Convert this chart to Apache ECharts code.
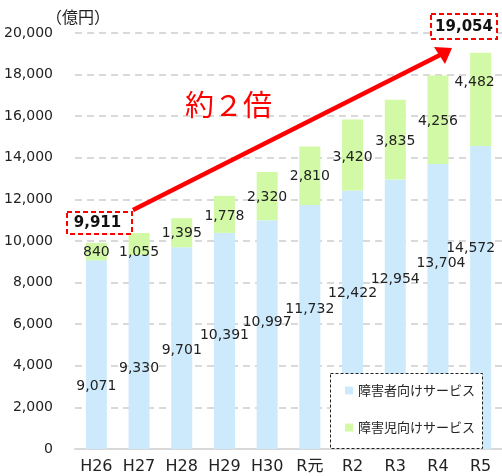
<!DOCTYPE html>
<html>
<head>
<meta charset="utf-8">
<script src="https://cdn.jsdelivr.net/npm/echarts@6/dist/echarts.min.js"></script>
<style>
  html, body { margin: 0; padding: 0; background: #fff; }
  #main { width: 502px; height: 476px; }
</style>
</head>
<body>
<div id="main"></div>
<script>
// 年度
var categories = ['H26', 'H27', 'H28', 'H29', 'H30', 'R元', 'R2', 'R3', 'R4', 'R5'];
// 障害者向けサービス（億円）
var adultValues = [9071, 9330, 9701, 10391, 10997, 11732, 12422, 12954, 13704, 14572];
// 障害児向けサービス（億円）
var childValues = [840, 1055, 1395, 1778, 2320, 2810, 3420, 3835, 4256, 4482];
var seriesNames = ['障害者向けサービス', '障害児向けサービス'];

// ラベル位置の微調整（スタイル）
var adultLabelOffsets = [[0, -51], [0, -69], [0, -87], [0, -102], [0, -115], [0, -128], [0, -144], [0, -158], [3, -174], [-10, -189]];
var childLabelOffsets = [[0, 1], [0, 8], [0, 1], [0, 2], [0, 1], [0, 1], [0, 2], [0, 2], [0, 2], [-6, -17]];

var numFont = 'DejaVu Sans, Noto Sans CJK JP';
var fmt = function (v) { return Number(v).toLocaleString('en-US'); };

var firstTotal = adultValues[0] + childValues[0];
var lastIdx = adultValues.length - 1;
var lastTotal = adultValues[lastIdx] + childValues[lastIdx];

var chart = echarts.init(document.getElementById('main'), null, { renderer: 'canvas' });

var option = {
  animation: false,
  backgroundColor: '#fff',
  grid: { left: 75, right: -7, top: 33, bottom: 27 },
  legend: {
    data: seriesNames,
    orient: 'vertical',
    left: 345,
    top: 384,
    padding: 0,
    itemWidth: 8,
    itemHeight: 8,
    itemGap: 24,
    icon: 'rect',
    z: 120,
    textStyle: { fontSize: 13, color: '#222', fontFamily: 'Noto Sans CJK JP' }
  },
  xAxis: {
    type: 'category',
    data: categories,
    axisTick: { show: false },
    axisLine: { lineStyle: { color: '#d9d9d9', width: 2 } },
    axisLabel: { color: '#222', fontSize: 16, margin: 10, fontFamily: numFont }
  },
  yAxis: {
    type: 'value',
    min: 0,
    max: 20000,
    interval: 2000,
    axisLine: { show: false },
    axisTick: { show: false },
    axisLabel: { color: '#222', fontSize: 14, margin: 22, fontFamily: numFont, formatter: fmt },
    splitLine: { lineStyle: { color: '#d9d9d9', width: 2, type: [7, 5] } }
  },
  series: [
    {
      name: seriesNames[0],
      type: 'bar',
      stack: 'total',
      barWidth: 21,
      itemStyle: { color: '#cdeafc' },
      label: {
        show: true,
        position: 'insideBottom',
        distance: 5,
        color: '#222',
        fontSize: 14,
        fontFamily: numFont,
        formatter: function (p) { return fmt(p.value); }
      },
      data: adultValues.map(function (v, i) {
        return { value: v, label: { offset: adultLabelOffsets[i] } };
      })
    },
    {
      name: seriesNames[1],
      type: 'bar',
      stack: 'total',
      barWidth: 21,
      itemStyle: { color: '#d2f9a6' },
      label: {
        show: true,
        position: 'inside',
        color: '#222',
        fontSize: 14,
        fontFamily: numFont,
        formatter: function (p) { return fmt(p.value); }
      },
      data: childValues.map(function (v, i) {
        return { value: v, label: { offset: childLabelOffsets[i] } };
      })
    }
  ],
  graphic: {
    elements: [
      // 単位
      {
        type: 'text', z: 100,
        style: { text: '（億円）', x: 46, y: 17, verticalAlign: 'middle', fontSize: 16, fontFamily: 'Noto Sans CJK JP', fill: '#222' }
      },
      // 凡例の枠
      {
        type: 'rect', z: 100,
        shape: { x: 330.5, y: 373.5, width: 152, height: 75 },
        style: { fill: '#fff', stroke: '#222', lineWidth: 1, lineDash: [3, 2] }
      },
      // 矢印
      {
        type: 'line', z: 100,
        shape: { x1: 133, y1: 210, x2: 440, y2: 55 },
        style: { stroke: '#ff0000', lineWidth: 4.5 }
      },
      {
        type: 'polygon', z: 100,
        shape: { points: [[452, 48], [445, 64], [434, 47]] },
        style: { fill: '#ff0000' }
      },
      {
        type: 'text', z: 100,
        style: { text: '約２倍', x: 185, y: 105, verticalAlign: 'middle', fontSize: 29, fontFamily: 'Noto Sans CJK JP', fill: '#ff0000' }
      },
      // 合計の枠
      {
        type: 'rect', z: 100,
        shape: { x: 67, y: 212, width: 65, height: 22 },
        style: { fill: '#fff', stroke: '#ff0000', lineWidth: 2, lineDash: [5, 3] }
      },
      {
        type: 'text', z: 101,
        style: { text: fmt(firstTotal), x: 97.5, y: 223, align: 'center', verticalAlign: 'middle', fontSize: 15, fontWeight: 'bold', fontFamily: numFont, fill: '#111' }
      },
      {
        type: 'rect', z: 100,
        shape: { x: 431, y: 14, width: 66, height: 25 },
        style: { fill: '#fff', stroke: '#ff0000', lineWidth: 2, lineDash: [5, 3] }
      },
      {
        type: 'text', z: 101,
        style: { text: fmt(lastTotal), x: 464, y: 27, align: 'center', verticalAlign: 'middle', fontSize: 15, fontWeight: 'bold', fontFamily: numFont, fill: '#111' }
      }
    ]
  }
};

chart.setOption(option);
</script>
</body>
</html>
